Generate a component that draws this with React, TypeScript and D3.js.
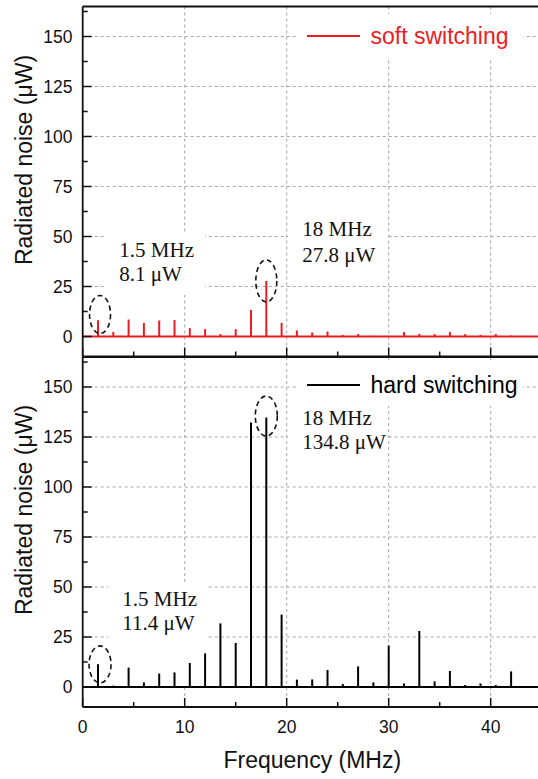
import React from "react";
import * as d3 from "d3";

// ---------- data ----------
const harmonicsMHz = [
  1.5, 3, 4.5, 6, 7.5, 9, 10.5, 12, 13.5, 15, 16.5, 18, 19.5, 21, 22.5, 24, 25.5,
  27, 28.5, 30, 31.5, 33, 34.5, 36, 37.5, 39, 40.5, 42, 43.5,
];
const softNoise = [
  8.1, 2.3, 8.5, 6.8, 8.0, 8.2, 4.2, 3.7, 1.2, 3.7, 13.2, 27.8, 6.8, 3.0, 2.0, 2.5,
  0.8, 1.2, 0.4, 0.3, 2.2, 1.3, 1.2, 2.3, 1.2, 0.8, 1.2, 0.5, 0.3,
];
const hardNoise = [
  11.4, 0.7, 9.7, 2.3, 6.7, 7.3, 12.0, 16.8, 31.8, 22.0, 132.2, 134.8, 36.2, 3.7,
  3.8, 8.5, 1.5, 10.3, 2.3, 20.7, 1.8, 28.0, 2.8, 8.0, 1.0, 1.8, 1.0, 7.8, 0.3,
];
const yTickValues = [0, 25, 50, 75, 100, 125, 150];
const xTickValues = [0, 10, 20, 30, 40];
const seriesNames = ["soft switching", "hard switching"];
const softLabels = [
  ["1.5 MHz", "8.1 μW"],
  ["18 MHz", "27.8 μW"],
];
const hardLabels = [
  ["1.5 MHz", "11.4 μW"],
  ["18 MHz", "134.8 μW"],
];
const xTitle = "Frequency (MHz)";
const yTitle = "Radiated noise (μW)";

// ---------- layout ----------
const W = 538;
const H = 779;
const X0 = 82.7;
const xScale = d3.scaleLinear().domain([0, 45]).range([X0, X0 + 459]);
const SANS = "'Liberation Sans', Arial, sans-serif";
const SERIF = "'Liberation Serif', 'Times New Roman', serif";
const RED = "#ec1c24";

type Box = { x0: number; x1: number; y0: number; y1: number; tx: number; b1: number; b2: number };
type Ell = { f: number; v: number; rx: number; ry: number };

function Panel(props: {
  top: number;
  bottom: number;
  values: number[];
  color: string;
  legend: string;
  legendY: number;
  labels: string[][];
  boxes: Box[];
  ellipses: Ell[];
  showXLabels: boolean;
  titleCenterY: number;
}) {
  const { top, bottom, values, color, legend, legendY, labels, boxes, ellipses, showXLabels, titleCenterY } = props;
  const y = d3.scaleLinear().domain([-10, 165]).range([bottom, top]);
  const xr = xScale.range();
  const minorY = d3.range(12.5, 165, 25);
  const minorX = d3.range(5, 45, 10);
  return (
    <g>
      {/* grid */}
      {yTickValues.filter((v) => v > 0).map((v) => (
        <line key={"gy" + v} x1={xr[0]} x2={xr[1]} y1={y(v)} y2={y(v)} stroke="#a6a6a6" strokeWidth={1} strokeDasharray="3,3" />
      ))}
      {xTickValues.filter((v) => v > 0).map((v) => (
        <line key={"gx" + v} x1={xScale(v)} x2={xScale(v)} y1={top} y2={bottom} stroke="#a6a6a6" strokeWidth={1} strokeDasharray="3,3" />
      ))}
      {/* white label boxes */}
      {boxes.map((b, i) => (
        <rect key={"b" + i} x={b.x0} y={b.y0} width={b.x1 - b.x0} height={b.y1 - b.y0} fill="#fff" />
      ))}
      <rect x={297} y={legendY - 22} width={226} height={43} fill="#fff" />
      {/* data */}
      <line x1={xr[0]} x2={xr[1]} y1={y(0)} y2={y(0)} stroke={color} strokeWidth={2} />
      {harmonicsMHz.map((f, i) => (
        <line key={"s" + i} x1={xScale(f)} x2={xScale(f)} y1={y(0)} y2={y(values[i])} stroke={color} strokeWidth={2} />
      ))}
      {/* ellipses */}
      {ellipses.map((e, i) => (
        <ellipse key={"e" + i} cx={xScale(e.f)} cy={y(e.v)} rx={e.rx} ry={e.ry} fill="none" stroke="#111" strokeWidth={1.6} strokeDasharray="5,3.5" />
      ))}
      {/* annotation text */}
      {boxes.map((b, i) => (
        <g key={"t" + i} fontFamily={SERIF} fontSize={21} fill="#111">
          <text x={b.tx} y={b.b1}>{labels[i][0]}</text>
          <text x={b.tx} y={b.b2}>{labels[i][1]}</text>
        </g>
      ))}
      {/* legend */}
      <line x1={307} x2={360} y1={legendY} y2={legendY} stroke={color} strokeWidth={1.8} />
      <text x={370.5} y={legendY + 7.8} fontFamily={SANS} fontSize={23} fill={color}>{legend}</text>
      {/* axes */}
      <line x1={X0} x2={X0} y1={top} y2={bottom} stroke="#111" strokeWidth={1.8} />
      <line x1={X0} x2={xr[1]} y1={top} y2={top} stroke="#111" strokeWidth={1.8} />
      <line x1={X0} x2={xr[1]} y1={bottom} y2={bottom} stroke="#111" strokeWidth={1.8} />
      {yTickValues.map((v) => (
        <g key={"yt" + v}>
          <line x1={X0} x2={X0 + 9} y1={y(v)} y2={y(v)} stroke="#111" strokeWidth={1.5} />
          <text x={72.5} y={y(v)} dy="0.36em" textAnchor="end" fontFamily={SANS} fontSize={17.5} fill="#111">{v}</text>
        </g>
      ))}
      {minorY.map((v) => (
        <line key={"ym" + v} x1={X0} x2={X0 + 5} y1={y(v)} y2={y(v)} stroke="#111" strokeWidth={1.5} />
      ))}
      {xTickValues.map((v) => (
        <g key={"xt" + v}>
          <line x1={xScale(v)} x2={xScale(v)} y1={bottom} y2={bottom - 9} stroke="#111" strokeWidth={1.5} />
          {showXLabels && (
            <text x={xScale(v)} y={733} textAnchor="middle" fontFamily={SANS} fontSize={17.5} fill="#111">{v}</text>
          )}
        </g>
      ))}
      {minorX.map((v) => (
        <line key={"xm" + v} x1={xScale(v)} x2={xScale(v)} y1={bottom} y2={bottom - 5} stroke="#111" strokeWidth={1.5} />
      ))}
      <text transform={`translate(32,${titleCenterY}) rotate(-90)`} textAnchor="middle" fontFamily={SANS} fontSize={23} fill="#111">{yTitle}</text>
    </g>
  );
}

export default function App() {
  return (
    <svg width={W} height={H} style={{ position: "absolute", left: 0, top: 0, display: "block", background: "#fff" }}>
      <rect width={W} height={H} fill="#fff" />
      <Panel
        top={6.5}
        bottom={356.5}
        values={softNoise}
        color={RED}
        legend={seriesNames[0]}
        legendY={36}
        labels={softLabels}
        boxes={[
          { x0: 105, x1: 205, y0: 232, y1: 295, tx: 119.3, b1: 257.3, b2: 280.7 },
          { x0: 288, x1: 388, y0: 206, y1: 271, tx: 302.3, b1: 235.7, b2: 261.7 },
        ]}
        ellipses={[
          { f: 1.7, v: 11, rx: 10.5, ry: 19 },
          { f: 18, v: 27.8, rx: 10.5, ry: 21 },
        ]}
        showXLabels={false}
        titleCenterY={160}
      />
      <Panel
        top={357}
        bottom={707}
        values={hardNoise}
        color="#000"
        legend={seriesNames[1]}
        legendY={385}
        labels={hardLabels}
        boxes={[
          { x0: 108, x1: 208, y0: 583, y1: 686, tx: 122.3, b1: 605.7, b2: 630 },
          { x0: 288, x1: 386, y0: 407, y1: 456, tx: 302.3, b1: 425, b2: 449.3 },
        ]}
        ellipses={[
          { f: 1.7, v: 11.3, rx: 11, ry: 18.5 },
          { f: 18, v: 135.5, rx: 11, ry: 20 },
        ]}
        showXLabels={true}
        titleCenterY={510}
      />
      <text x={312.3} y={768.4} textAnchor="middle" fontFamily={SANS} fontSize={23} fill="#111">{xTitle}</text>
    </svg>
  );
}
